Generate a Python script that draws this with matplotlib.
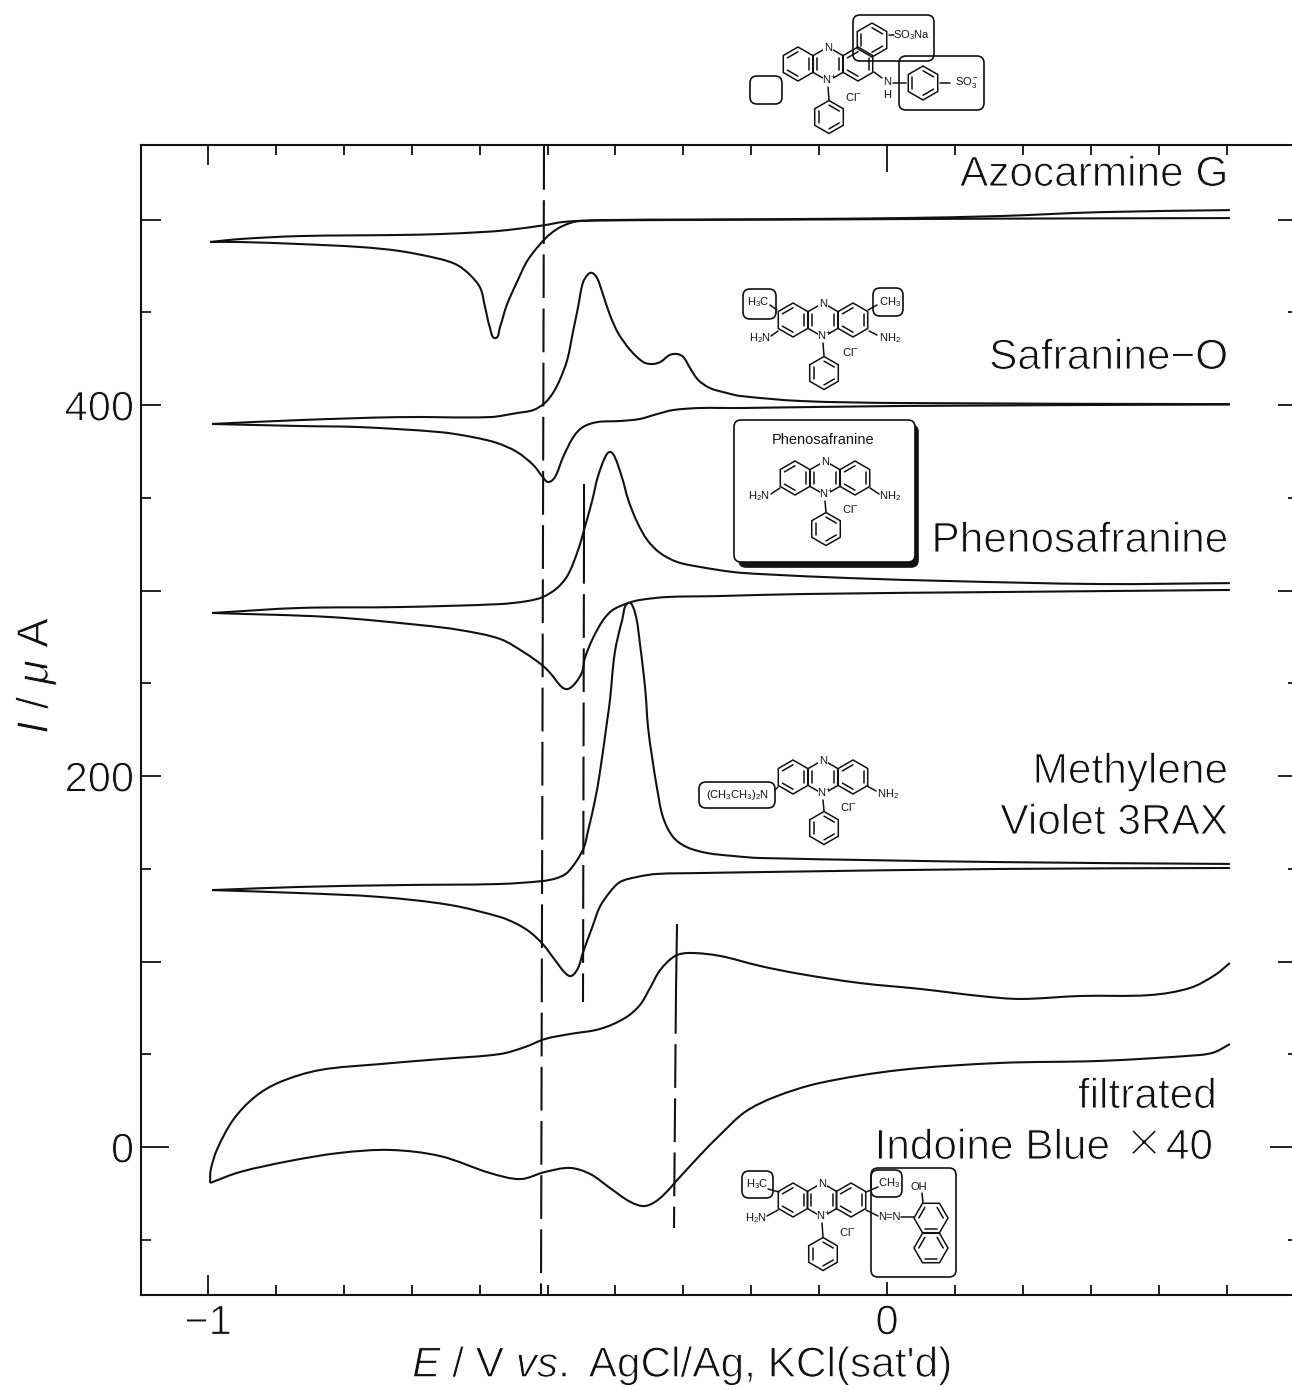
import numpy as np
import matplotlib
matplotlib.use("Agg")
import matplotlib.pyplot as plt
import matplotlib.patheffects as pe
from matplotlib.patches import FancyBboxPatch, PathPatch, Polygon
from matplotlib.path import Path

plt.rcParams['font.family'] = ['Liberation Sans', 'DejaVu Sans']
plt.rcParams['mathtext.fontset'] = 'custom'
plt.rcParams['mathtext.rm'] = 'Liberation Sans'
plt.rcParams['mathtext.it'] = 'Liberation Sans:italic'
plt.rcParams['mathtext.default'] = 'regular'

INK = '#111111'
THIN = [pe.Stroke(linewidth=0.7, foreground='white')]

# voltammograms (E / V, I / uA), one list pair per sweep
azo_up_E = [-0.997, -0.953, -0.865, -0.717, -0.658, -0.595, -0.560, -0.504, -0.477, -0.423, -0.275, -0.128, 0.019, 0.166, 0.314, 0.505]
azo_up_I = [487.9, 489.5, 491.1, 491.7, 492.2, 493.3, 494.3, 497.0, 498.7, 499.7, 500.0, 500.3, 500.8, 501.9, 504.0, 505.1]
azo_dn_E = [0.505, 0.166, -0.128, -0.349, -0.452, -0.467, -0.486, -0.504, -0.529, -0.545, -0.560, -0.570, -0.577, -0.585, -0.592, -0.599, -0.614, -0.633, -0.658, -0.717, -0.776, -0.865, -0.953, -0.997]
azo_dn_I = [500.8, 500.5, 500.0, 499.7, 499.2, 498.1, 494.9, 489.5, 478.2, 466.3, 453.9, 442.0, 436.1, 442.0, 452.8, 463.1, 470.1, 475.5, 478.7, 483.0, 485.2, 486.8, 487.9, 487.9]

saf_up_E = [-0.994, -0.865, -0.717, -0.585, -0.545, -0.521, -0.504, -0.492, -0.482, -0.471, -0.462, -0.455, -0.448, -0.440, -0.434, -0.427, -0.418, -0.408, -0.396, -0.378, -0.359, -0.346, -0.334, -0.320, -0.309, -0.300, -0.290, -0.278, -0.261, -0.236, -0.216, -0.128, 0.019, 0.505]
saf_up_I = [389.8, 391.9, 393.5, 393.5, 395.7, 397.3, 401.1, 406.5, 413.5, 424.3, 440.4, 452.8, 465.8, 470.6, 471.2, 468.5, 459.3, 448.5, 438.8, 429.6, 423.2, 422.1, 423.2, 427.0, 427.5, 425.9, 419.9, 413.5, 409.2, 406.5, 404.9, 402.2, 401.1, 400.5]
saf_dn_E = [0.505, 0.019, -0.216, -0.275, -0.315, -0.339, -0.364, -0.393, -0.427, -0.448, -0.462, -0.477, -0.489, -0.499, -0.507, -0.521, -0.545, -0.574, -0.610, -0.658, -0.776, -0.865, -0.994]
saf_dn_I = [400.3, 399.5, 398.4, 398.4, 397.3, 395.1, 392.5, 391.4, 390.8, 388.1, 382.7, 372.0, 361.2, 358.5, 361.2, 367.7, 374.7, 379.5, 382.7, 385.4, 388.1, 388.7, 389.8]

phe_up_E = [-0.994, -0.865, -0.717, -0.570, -0.530, -0.507, -0.486, -0.470, -0.455, -0.445, -0.434, -0.426, -0.415, -0.408, -0.401, -0.390, -0.381, -0.368, -0.353, -0.334, -0.309, -0.275, -0.227, -0.187, -0.054, 0.093, 0.314, 0.505]
phe_up_I = [287.9, 290.6, 291.1, 292.7, 294.3, 296.5, 301.3, 308.4, 321.8, 334.2, 348.8, 361.2, 372.0, 374.7, 372.0, 360.6, 348.8, 336.9, 327.2, 320.2, 315.4, 312.7, 310.0, 308.9, 306.7, 305.1, 303.5, 304.0]
phe_dn_E = [0.505, 0.166, -0.128, -0.250, -0.324, -0.364, -0.381, -0.404, -0.418, -0.433, -0.445, -0.449, -0.459, -0.470, -0.479, -0.496, -0.508, -0.533, -0.570, -0.629, -0.688, -0.820, -0.994]
phe_dn_I = [300.3, 299.2, 298.1, 297.0, 296.5, 294.9, 293.3, 289.5, 284.1, 274.4, 263.6, 256.1, 250.1, 246.9, 248.0, 255.5, 259.8, 266.3, 273.9, 278.7, 281.4, 285.7, 287.9]

mv_up_E = [-0.994, -0.865, -0.717, -0.570, -0.507, -0.486, -0.470, -0.448, -0.440, -0.430, -0.423, -0.412, -0.408, -0.401, -0.390, -0.381, -0.371, -0.364, -0.356, -0.352, -0.346, -0.339, -0.330, -0.315, -0.295, -0.265, -0.227, -0.187, 0.166, 0.505]
mv_up_I = [138.5, 140.2, 141.2, 141.8, 143.4, 145.0, 148.2, 160.1, 170.9, 187.1, 201.6, 230.2, 241.0, 266.3, 284.1, 293.3, 287.9, 271.7, 246.4, 226.4, 210.2, 194.1, 177.9, 167.1, 161.7, 158.5, 156.9, 155.8, 153.6, 152.6]
mv_dn_E = [0.505, 0.166, -0.187, -0.275, -0.339, -0.368, -0.393, -0.408, -0.423, -0.434, -0.448, -0.455, -0.465, -0.474, -0.489, -0.507, -0.526, -0.545, -0.570, -0.644, -0.747, -0.865, -0.994]
mv_dn_I = [150.4, 149.9, 148.2, 147.7, 147.2, 145.6, 142.9, 137.5, 129.4, 118.6, 104.6, 96.5, 92.2, 93.8, 100.8, 109.4, 115.9, 120.2, 124.0, 130.5, 134.8, 136.9, 138.5]

ind_up_E = [-0.997, -0.996, -0.987, -0.963, -0.931, -0.894, -0.835, -0.747, -0.658, -0.570, -0.533, -0.504, -0.467, -0.423, -0.386, -0.364, -0.349, -0.334, -0.312, -0.290, -0.246, -0.187, -0.128, -0.040, 0.049, 0.137, 0.196, 0.284, 0.387, 0.446, 0.483, 0.505]
ind_up_I = [-19.4, -12.4, -1.6, 14.6, 27.0, 35.0, 41.5, 44.7, 47.4, 50.1, 53.9, 58.2, 60.9, 63.6, 69.5, 76.5, 85.7, 95.4, 103.0, 104.6, 103.0, 97.6, 93.3, 88.4, 85.2, 81.4, 79.8, 81.4, 81.9, 85.7, 92.7, 99.2]
ind_dn_E = [-0.997, -0.953, -0.879, -0.806, -0.732, -0.658, -0.585, -0.540, -0.504, -0.467, -0.437, -0.408, -0.378, -0.356, -0.334, -0.305, -0.275, -0.246, -0.209, -0.165, -0.099, 0.019, 0.166, 0.314, 0.461, 0.483, 0.505]
ind_dn_I = [-19.4, -13.5, -7.5, -3.2, -1.6, -4.9, -14.0, -17.3, -13.5, -11.3, -14.6, -22.1, -29.6, -31.8, -27.5, -16.2, -4.3, 6.5, 18.9, 27.0, 34.5, 41.5, 45.3, 46.4, 49.6, 51.2, 55.5]

sweeps = [(azo_up_E, azo_up_I), (azo_dn_E, azo_dn_I), (saf_up_E, saf_up_I), (saf_dn_E, saf_dn_I),
          (phe_up_E, phe_up_I), (phe_dn_E, phe_dn_I), (mv_up_E, mv_up_I), (mv_dn_E, mv_dn_I),
          (ind_up_E, ind_up_I), (ind_dn_E, ind_dn_I)]

fig = plt.figure(figsize=(12.92, 13.9), dpi=100)

# right spine sits just off the page like in the scan
ax = fig.add_axes([141/1292, 95/1390, 1157/1292, 1150/1390])
ax.set_xlim(-1.0987, 0.6053)
ax.set_ylim(-79.8, 540.2)
for s in ax.spines.values():
    s.set_linewidth(1.5)
    s.set_color(INK)

# pen traces are smooth, so join the read points with bezier pieces
def smooth_path(e, i):
    p = np.c_[e, i]
    sc = np.array([679.0, 1.855])
    q = p * sc
    verts = [p[0]]
    codes = [Path.MOVETO]
    for k in range(len(q) - 1):
        a = q[k+1] - q[max(k-1, 0)]
        b = q[min(k+2, len(q)-1)] - q[k]
        a = a / np.hypot(*a)
        b = b / np.hypot(*b)
        d = np.hypot(*(q[k+1] - q[k])) / 3
        verts += [(q[k] + a*d) / sc, (q[k+1] - b*d) / sc, p[k+1]]
        codes += [Path.CURVE4] * 3
    return Path(verts, codes)

for e, i in sweeps:
    ax.add_patch(PathPatch(smooth_path(e, i), fc='none', ec=INK, lw=1.5, joinstyle='round'))

ax.set_xticks([-1, 0])
ax.set_xticklabels(['\u22121', '0'])
ax.set_xticks(np.arange(-1, 0.55, 0.1), minor=True)
ax.set_yticks([0, 100, 200, 300, 400, 500])
ax.set_yticklabels(['0', '', '200', '', '400', ''])
ax.set_yticks(np.arange(-50, 501, 50), minor=True)
ax.tick_params(which='major', direction='in', top=True, right=True, length=14.4, width=1.3,
               color=INK, labelcolor=INK, labelsize=30)
ax.tick_params(which='minor', direction='in', top=True, right=True, length=7.2, width=1.3, color=INK)
ax.tick_params(axis='y', which='major', pad=5)
ax.tick_params(axis='x', which='major', pad=6)
t0 = ax.yaxis.get_major_ticks()[0]
t0.tick1line.set_markersize(20)
t0.tick2line.set_markersize(20)
tx = ax.xaxis.get_major_ticks()[1]
tx.tick1line.set_markersize(9.5)
tx.tick2line.set_markersize(19.5)
for lab in ax.get_xticklabels() + ax.get_yticklabels():
    lab.set_path_effects(THIN)

# page overlay in pixels for labels, marker lines and the formulas
pg = fig.add_axes([0, 0, 1, 1])
pg.set_xlim(0, 1292)
pg.set_ylim(1390, 0)
pg.axis('off')
pg.patch.set_visible(False)

def label(x, y, s, size=30.5, ha='right', effects=THIN, **kw):
    pg.text(x, y + 3, s, fontsize=size, ha=ha, va='center', color=INK, path_effects=effects, **kw)

def small(x, y, s, size=8, ha='center', **kw):
    pg.text(x, y, s, fontsize=size, ha=ha, va='center', color=INK, zorder=6, **kw)

def seg(x0, y0, x1, y1, lw=1.1):
    pg.plot([x0, x1], [y0, y1], color=INK, lw=lw, solid_capstyle='round', zorder=5)

def ring(cx, cy, r=17, inner=(0, 2, 4), lw=1.1, rot=-90):
    a = np.radians(np.arange(6) * 60 + rot)
    xs = cx + r*np.cos(a)
    ys = cy + r*np.sin(a)
    pg.add_patch(Polygon(np.c_[xs, ys], closed=True, fill=False, ec=INK, lw=lw, zorder=5))
    for k in inner:
        m = (k + 1) % 6
        seg(cx + 0.72*(xs[k]-cx), cy + 0.72*(ys[k]-cy), cx + 0.72*(xs[m]-cx), cy + 0.72*(ys[m]-cy), lw=lw)

def rbox(x0, y0, x1, y1, lw=1.2, rad=7, fc='none', z=4):
    pg.add_patch(FancyBboxPatch((x0+rad, y0+rad), x1-x0-2*rad, y1-y0-2*rad,
                                boxstyle='round,pad=%d,rounding_size=%d' % (rad, rad),
                                fc=fc, ec=INK, lw=lw, zorder=z))

def phenazine(cx, cy, phy, clx, cly, clabel='Cl$^{-}$', dx=30):
    ring(cx-dx, cy, inner=(1, 3, 5))
    ring(cx, cy, inner=(1, 4))
    ring(cx+dx, cy, inner=(1, 3, 5))
    pg.add_patch(Polygon([[cx-5, cy-20], [cx+5, cy-20], [cx+5, cy-11], [cx-5, cy-11]], fc='white', ec='none', zorder=5.5))
    pg.add_patch(Polygon([[cx-5, cy+11], [cx+5, cy+11], [cx+5, cy+21], [cx-5, cy+21]], fc='white', ec='none', zorder=5.5))
    small(cx, cy-16, 'N')
    small(cx+1, cy+16, 'N$^{+}$')
    seg(cx, cy+23, cx+1, phy-17)
    ring(cx+1, phy, r=16.5)
    small(clx, cly, clabel)

# dashed guide lines (first stretch solid on the short ones)
DASH = (0, (21, 5))
pg.plot([544, 541], [146, 1295], color=INK, lw=1.5, ls=DASH)
pg.plot([584, 583], [540, 1002], color=INK, lw=1.5, ls=DASH)
pg.plot([584, 584], [485, 540], color=INK, lw=1.5)
pg.plot([676, 674], [990, 1228], color=INK, lw=1.5, ls=DASH)
pg.plot([677, 676], [925, 990], color=INK, lw=1.5)

# curve names
label(1228, 172, 'Azocarmine G')
label(1228, 355, 'Safranine\u2212O')
label(1228, 538, 'Phenosafranine')
label(1228, 769, 'Methylene')
label(1228, 820, 'Violet 3RAX')
label(1217, 1094, 'filtrated')
label(1110, 1145, 'Indoine Blue')
label(1162, 1144, '\u00d7', size=44, effects=[pe.Stroke(linewidth=2.0, foreground='white')])
label(1213, 1145, '40')

# axis titles
label(682, 1363, "$\\mathit{E}$ / V $\\mathit{vs.}$ AgCl/Ag, KCl(sat'd)", ha='center')
pg.text(36, 675, '$\\mathit{I}$ / $\\mathit{\\mu}$ A', fontsize=32, rotation=90, ha='center', va='center',
        color=INK, path_effects=THIN)

# azocarmine G
phenazine(828, 64, 117, 853, 97)
ring(872, 40)
small(912, 35, 'SO$_3$Na')
seg(889, 35, 894, 35)
small(887, 82, 'N')
small(887, 95, 'H')
seg(874, 72, 882, 78)
seg(893, 83, 906, 83)
ring(923, 83)
seg(940, 83, 950, 83)
small(967, 83, 'SO$_3^-$')
rbox(853, 15, 934, 61)
rbox(899, 56, 984, 110)
rbox(750, 76, 782, 104)

# safranine-O
phenazine(823, 320, 373, 850, 352)
small(758, 302, 'H$_3$C')
seg(770, 305, 777, 310)
small(890, 302, 'CH$_3$')
seg(868, 310, 877, 305)
small(760, 338, 'H$_2$N')
seg(771, 336, 778, 331)
small(890, 338, 'NH$_2$')
seg(869, 331, 877, 335)
rbox(743, 289, 776, 319)
rbox(873, 288, 903, 316)

# phenosafranine box with its drop shadow
rbox(739, 425, 918, 567, lw=1.2, fc=INK, z=3)
rbox(734, 420, 915, 562, lw=1.2, fc='white', z=3.5)
small(823, 440, 'Phenosafranine', size=10.5)
phenazine(825, 478, 529, 850, 509)
small(759, 496, 'H$_2$N')
seg(771, 494, 780, 488)
small(890, 496, 'NH$_2$')
seg(870, 488, 879, 494)

# methylene violet
phenazine(823, 777, 828, 848, 807)
rbox(699, 782, 775, 808)
small(737, 795, '(CH$_3$CH$_3$)$_2$N')
seg(775, 790, 778, 787)
small(888, 794, 'NH$_2$')
seg(867, 786, 876, 791)

# indoine blue
phenazine(822, 1200, 1254, 847, 1232, dx=29)
small(757, 1184, 'H$_3$C')
seg(768, 1189, 779, 1192)
small(756, 1218, 'H$_2$N')
seg(767, 1216, 778, 1210)
small(889, 1183, 'CH$_3$')
seg(866, 1192, 878, 1187)
small(889, 1217, 'N=N')
seg(866, 1210, 878, 1216)
seg(901, 1217, 914, 1217)
small(919, 1187, 'OH')
seg(922, 1193, 923, 1203)
ring(931, 1218, r=17, rot=0, inner=(1, 3, 5))
ring(931, 1248, r=17, rot=0, inner=(1, 3, 5))
rbox(742, 1171, 773, 1198)
rbox(871, 1170, 902, 1197)
rbox(871, 1168, 956, 1277)

fig.savefig('out.png', dpi=100, facecolor='white')
